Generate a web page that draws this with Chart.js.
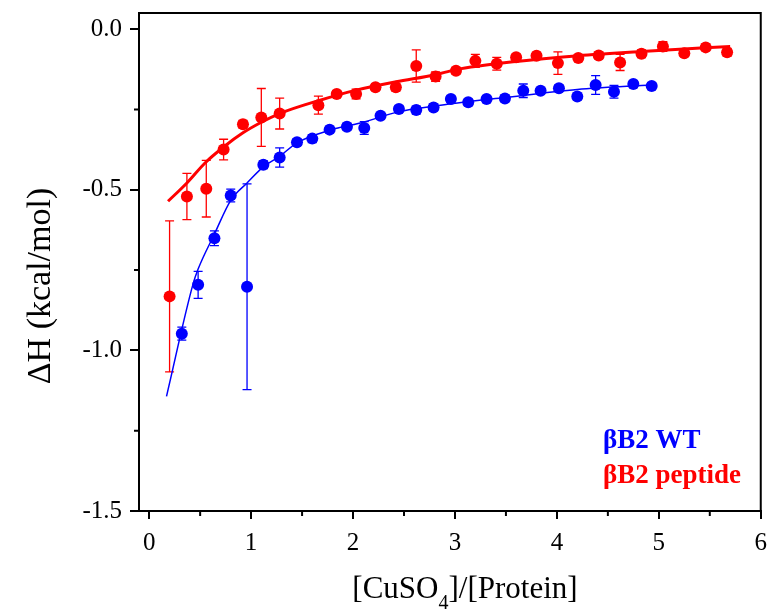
<!DOCTYPE html>
<html>
<head>
<meta charset="utf-8">
<script src="https://cdn.jsdelivr.net/npm/chart.js@4.4.0/dist/chart.umd.min.js"></script>
<style>
  body { margin: 0; background: #fff; }
  #wrap { width: 776px; height: 614px; }
</style>
</head>
<body>
<div id="wrap"><canvas id="ithChart" width="776" height="614"></canvas></div>
<script>
// values
const wtX = [0.32, 0.48, 0.64, 0.80, 0.96, 1.12, 1.28, 1.45, 1.60, 1.77, 1.94, 2.11, 2.27, 2.45, 2.62, 2.79, 2.96, 3.13, 3.31, 3.49, 3.67, 3.84, 4.02, 4.20, 4.38, 4.56, 4.75, 4.93];
const wtY = [-0.948, -0.796, -0.651, -0.518, -0.802, -0.422, -0.400, -0.352, -0.341, -0.313, -0.304, -0.308, -0.270, -0.249, -0.252, -0.244, -0.218, -0.228, -0.218, -0.216, -0.192, -0.192, -0.184, -0.210, -0.174, -0.195, -0.171, -0.177];
const wtErr = [0.02, 0.042, 0.023, 0.02, 0.32, 0.012, 0.03, 0.01, 0.012, 0.01, 0.01, 0.02, 0.01, 0.01, 0.012, 0.01, 0.01, 0.01, 0.01, 0.01, 0.021, 0.01, 0.01, 0.01, 0.029, 0.02, 0.01, 0.01];

const pepX = [0.20, 0.37, 0.56, 0.73, 0.92, 1.10, 1.28, 1.66, 1.84, 2.03, 2.22, 2.42, 2.62, 2.81, 3.01, 3.20, 3.41, 3.60, 3.80, 4.01, 4.21, 4.41, 4.62, 4.83, 5.04, 5.25, 5.46, 5.67];
const pepY = [-0.832, -0.521, -0.497, -0.375, -0.296, -0.275, -0.263, -0.237, -0.202, -0.202, -0.181, -0.181, -0.115, -0.148, -0.130, -0.099, -0.108, -0.088, -0.083, -0.106, -0.090, -0.082, -0.104, -0.077, -0.054, -0.075, -0.057, -0.072];
const pepErr = [0.235, 0.072, 0.088, 0.032, 0.012, 0.09, 0.048, 0.028, 0.01, 0.015, 0.01, 0.012, 0.05, 0.015, 0.01, 0.02, 0.02, 0.01, 0.01, 0.035, 0.01, 0.01, 0.025, 0.012, 0.015, 0.01, 0.01, 0.012];

// fitted curves
const wtFitX = [0.17, 0.43, 0.48, 0.64, 0.80, 0.96, 1.12, 1.28, 1.45, 1.77, 2.11, 2.45, 2.79, 3.49, 4.20, 4.93];
const wtFitY = [-1.143, -0.794, -0.747, -0.638, -0.533, -0.479, -0.429, -0.396, -0.354, -0.315, -0.289, -0.257, -0.240, -0.213, -0.188, -0.174];
const pepFitX = [0.185, 0.37, 0.55, 0.73, 0.92, 1.10, 1.28, 1.66, 2.03, 2.42, 2.81, 3.00, 3.60, 4.21, 4.83, 5.70];
const pepFitY = [-0.536, -0.479, -0.416, -0.367, -0.323, -0.290, -0.263, -0.223, -0.190, -0.164, -0.142, -0.127, -0.101, -0.083, -0.070, -0.054];

const xMinor = [0.5, 1.5, 2.5, 3.5, 4.5, 5.5];
const yMinor = [-0.25, -0.75, -1.25];

const SERIF = "'Liberation Serif', 'Times New Roman', serif";
const BLUE = '#0000ff';
const RED = '#ff0000';

function toPoints(xs, ys) {
    return xs.map((x, i) => ({ x: x, y: ys[i] }));
}

// vertical error bars with caps, under the markers
const errorBars = {
    id: 'errorBars',
    beforeDatasetsDraw(chart) {
        const ctx = chart.ctx;
        const sx = chart.scales.x, sy = chart.scales.y;
        chart.data.datasets.forEach(ds => {
            if (!ds.errors) return;
            ctx.save();
            ctx.strokeStyle = ds.borderColor;
            ctx.lineWidth = 1.3;
            ds.data.forEach((p, i) => {
                const px = sx.getPixelForValue(p.x);
                const top = sy.getPixelForValue(p.y + ds.errors[i]);
                const bot = sy.getPixelForValue(p.y - ds.errors[i]);
                ctx.beginPath();
                ctx.moveTo(px, top); ctx.lineTo(px, bot);
                ctx.moveTo(px - 4.5, top); ctx.lineTo(px + 4.5, top);
                ctx.moveTo(px - 4.5, bot); ctx.lineTo(px + 4.5, bot);
                ctx.stroke();
            });
            ctx.restore();
        });
    }
};

// frame, minor ticks, axis titles and the coloured labels
const decorations = {
    id: 'decorations',
    afterDraw(chart) {
        const ctx = chart.ctx;
        const a = chart.chartArea;
        const sx = chart.scales.x, sy = chart.scales.y;
        ctx.save();
        ctx.strokeStyle = '#000';
        ctx.lineWidth = 2;
        ctx.beginPath();
        ctx.moveTo(a.left, a.top); ctx.lineTo(a.right, a.top); ctx.lineTo(a.right, a.bottom);
        ctx.stroke();

        ctx.beginPath();
        xMinor.forEach(v => {
            const px = sx.getPixelForValue(v);
            ctx.moveTo(px, a.bottom); ctx.lineTo(px, a.bottom + 5);
        });
        yMinor.forEach(v => {
            const py = sy.getPixelForValue(v);
            ctx.moveTo(a.left, py); ctx.lineTo(a.left - 5, py);
        });
        ctx.stroke();

        // y title
        ctx.fillStyle = '#000';
        ctx.font = '34px ' + SERIF;
        ctx.textAlign = 'center';
        ctx.textBaseline = 'alphabetic';
        ctx.save();
        ctx.translate(50, 286);
        ctx.rotate(-Math.PI / 2);
        ctx.fillText('\u0394H (kcal/mol)', 0, 0);
        ctx.restore();

        // x title with subscript
        const big = '31px ' + SERIF, small = '20px ' + SERIF;
        ctx.textAlign = 'left';
        ctx.font = big;
        const w1 = ctx.measureText('[CuSO').width;
        const w3 = ctx.measureText(']/[Protein]').width;
        ctx.font = small;
        const w2 = ctx.measureText('4').width;
        let x0 = 465 - (w1 + w2 + w3) / 2;
        const base = 598;
        ctx.font = big;
        ctx.fillText('[CuSO', x0, base);
        ctx.font = small;
        ctx.fillText('4', x0 + w1, base + 11);
        ctx.font = big;
        ctx.fillText(']/[Protein]', x0 + w1 + w2, base);

        // series labels
        ctx.font = 'bold 27px ' + SERIF;
        ctx.fillStyle = BLUE;
        ctx.fillText('\u03b2B2 WT', 603, 448);
        ctx.fillStyle = RED;
        ctx.fillText('\u03b2B2 peptide', 603, 483);
        ctx.restore();
    }
};

const ctx = document.getElementById('ithChart').getContext('2d');
const ithChart = new Chart(ctx, {
    type: 'scatter',
    data: {
        datasets: [
            {
                label: '\u03b2B2 WT',
                data: toPoints(wtX, wtY),
                errors: wtErr,
                backgroundColor: BLUE,
                borderColor: BLUE,
                pointRadius: 6,
                pointBorderWidth: 0
            },
            {
                label: '\u03b2B2 peptide',
                data: toPoints(pepX, pepY),
                errors: pepErr,
                backgroundColor: RED,
                borderColor: RED,
                pointRadius: 6,
                pointBorderWidth: 0
            },
            {
                label: 'WT fit',
                data: toPoints(wtFitX, wtFitY),
                showLine: true,
                borderColor: BLUE,
                borderWidth: 1.5,
                pointRadius: 0,
                cubicInterpolationMode: 'monotone'
            },
            {
                label: 'peptide fit',
                data: toPoints(pepFitX, pepFitY),
                showLine: true,
                borderColor: RED,
                borderWidth: 3,
                pointRadius: 0,
                cubicInterpolationMode: 'monotone'
            }
        ]
    },
    options: {
        responsive: false,
        animation: false,
        devicePixelRatio: 1,
        layout: { padding: { left: 0, right: 8, top: 13, bottom: 0 } },
        plugins: {
            legend: { display: false },
            tooltip: { enabled: false }
        },
        scales: {
            x: {
                type: 'linear',
                min: -0.1,
                max: 6,
                ticks: {
                    stepSize: 1,
                    includeBounds: false,
                    color: '#000',
                    padding: 9,
                    font: { family: SERIF, size: 25 }
                },
                grid: { drawOnChartArea: false, drawTicks: true, tickLength: 8, color: '#000', lineWidth: 2 },
                border: { display: true, color: '#000', width: 2 },
                afterFit: function(scale) { scale.height = 103; }
            },
            y: {
                type: 'linear',
                min: -1.5,
                max: 0.05,
                ticks: {
                    stepSize: 0.5,
                    includeBounds: false,
                    color: '#000',
                    padding: 8,
                    font: { family: SERIF, size: 25 },
                    callback: function(v) { return v.toFixed(1); }
                },
                grid: { drawOnChartArea: false, drawTicks: true, tickLength: 9, color: '#000', lineWidth: 2 },
                border: { display: true, color: '#000', width: 2 },
                afterFit: function(scale) {
                    scale.width = 139;
                    scale.paddingTop = 0;
                    scale.paddingBottom = 0;
                }
            }
        }
    },
    plugins: [errorBars, decorations]
});
</script>
</body>
</html>
